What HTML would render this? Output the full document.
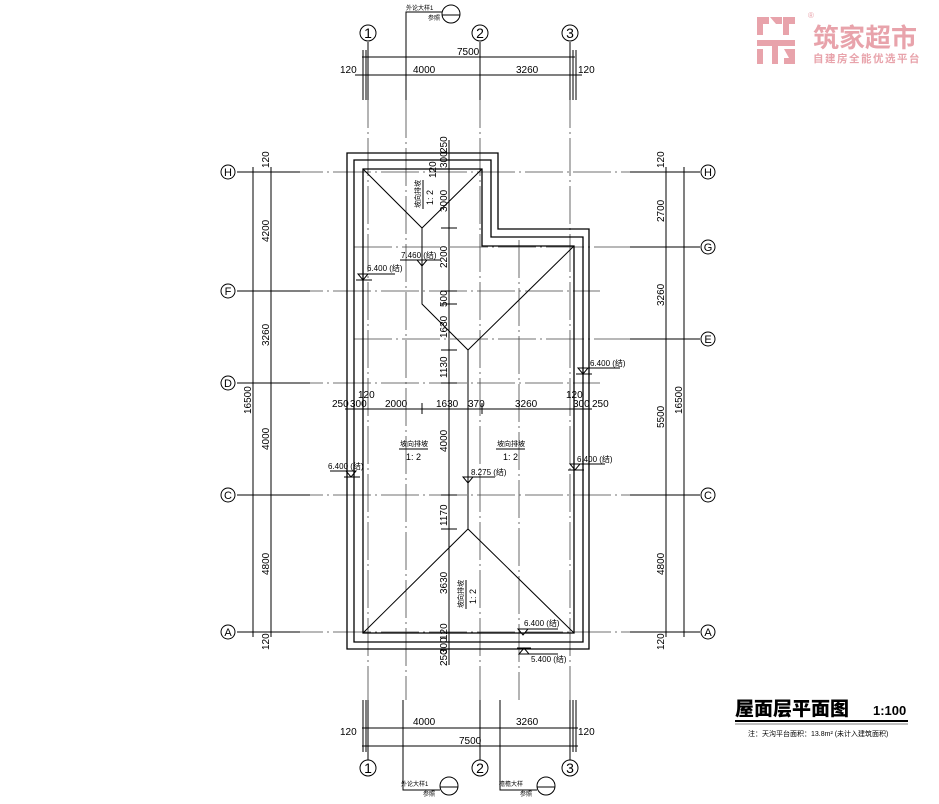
<!DOCTYPE html>
<html><head><meta charset="utf-8"><style>
html,body{margin:0;padding:0;background:#fff;}
svg{display:block;}
text{font-family:"Liberation Sans Narrow","Liberation Sans","Noto Sans CJK SC",sans-serif;fill:#000;}
.g{stroke:#444;stroke-width:.8;stroke-dasharray:38,4,2,4;fill:none;}
.l{stroke:#000;stroke-width:1;fill:none;}
.t{stroke:#000;stroke-width:1.3;fill:none;}
.s{font-size:10px;}
.c{font-size:7px;}
</style></head><body>
<svg width="939" height="804" viewBox="0 0 939 804" xmlns="http://www.w3.org/2000/svg">
<g class="g">
<line x1="237" y1="172" x2="700" y2="172"/>
<line x1="354" y1="247" x2="700" y2="247"/>
<line x1="237" y1="291" x2="600" y2="291"/>
<line x1="354" y1="339" x2="700" y2="339"/>
<line x1="237" y1="383" x2="600" y2="383"/>
<line x1="237" y1="495" x2="700" y2="495"/>
<line x1="237" y1="632" x2="700" y2="632"/>
<line x1="368" y1="42" x2="368" y2="760"/>
<line x1="480" y1="42" x2="480" y2="760"/>
<line x1="570" y1="42" x2="570" y2="760"/>
<line x1="406" y1="100" x2="406" y2="700"/>
<line x1="519" y1="240" x2="519" y2="700"/>
</g>
<g class="l">
<line x1="237" y1="172" x2="300" y2="172"/><line x1="237" y1="291" x2="310" y2="291"/><line x1="237" y1="383" x2="310" y2="383"/><line x1="237" y1="495" x2="310" y2="495"/><line x1="237" y1="632" x2="300" y2="632"/>
<line x1="630" y1="172" x2="700" y2="172"/><line x1="630" y1="247" x2="700" y2="247"/><line x1="630" y1="339" x2="700" y2="339"/><line x1="630" y1="495" x2="700" y2="495"/><line x1="630" y1="632" x2="700" y2="632"/>
<line x1="368" y1="42" x2="368" y2="100"/><line x1="480" y1="42" x2="480" y2="100"/><line x1="570" y1="42" x2="570" y2="100"/>
<line x1="368" y1="700" x2="368" y2="760"/><line x1="480" y1="700" x2="480" y2="760"/><line x1="570" y1="700" x2="570" y2="760"/>
</g>
<path class="t" d="M347 153 H498 V229 H589 V649 H347 Z"/>
<path class="t" d="M354 160 H491 V237 H583 V642 H354 Z"/>
<path class="t" d="M363 169 H482 V246 H574 V633 H363 Z"/>
<g class="l">
<polyline points="363,169 422,228 482,169"/>
<polyline points="422,228 422,304 468,350 468,529"/>
<line x1="574" y1="246" x2="468" y2="350"/>
<polyline points="363,633 468,529 574,633"/>
</g>
<line class="l" x1="449" y1="140" x2="449" y2="665"/>
<g class="l">
<line x1="441" y1="153" x2="457" y2="153"/><line x1="441" y1="160" x2="457" y2="160"/><line x1="441" y1="169" x2="457" y2="169"/><line x1="441" y1="228" x2="457" y2="228"/><line x1="441" y1="291" x2="457" y2="291"/><line x1="441" y1="304" x2="457" y2="304"/><line x1="441" y1="350" x2="457" y2="350"/><line x1="441" y1="383" x2="457" y2="383"/><line x1="441" y1="495" x2="457" y2="495"/><line x1="441" y1="529" x2="457" y2="529"/><line x1="441" y1="633" x2="457" y2="633"/><line x1="441" y1="642" x2="457" y2="642"/><line x1="441" y1="649" x2="457" y2="649"/>
</g>
<g class="s">
<text transform="translate(447,153) rotate(-90)">250</text>
<text transform="translate(447,168) rotate(-90)">300</text>
<text transform="translate(436,178) rotate(-90)">120</text>
<text transform="translate(447,212) rotate(-90)">3000</text>
<text transform="translate(447,268) rotate(-90)">2200</text>
<text transform="translate(447,307) rotate(-90)">500</text>
<text transform="translate(447,338) rotate(-90)">1630</text>
<text transform="translate(447,378) rotate(-90)">1130</text>
<text transform="translate(447,452) rotate(-90)">4000</text>
<text transform="translate(447,526) rotate(-90)">1170</text>
<text transform="translate(447,594) rotate(-90)">3630</text>
<text transform="translate(447,640) rotate(-90)">120</text>
<text transform="translate(447,654) rotate(-90)">300</text>
<text transform="translate(447,666) rotate(-90)">250</text>
</g>
<line class="l" x1="345" y1="409" x2="592" y2="409"/>
<g class="l"><line x1="347" y1="403" x2="347" y2="414"/><line x1="354" y1="403" x2="354" y2="414"/><line x1="363" y1="403" x2="363" y2="414"/><line x1="422" y1="403" x2="422" y2="414"/><line x1="468" y1="403" x2="468" y2="414"/><line x1="482" y1="403" x2="482" y2="414"/><line x1="574" y1="403" x2="574" y2="414"/><line x1="583" y1="403" x2="583" y2="414"/><line x1="589" y1="403" x2="589" y2="414"/></g>
<g class="s">
<text x="332" y="407">250</text><text x="350" y="407">300</text><text x="358" y="398">120</text>
<text x="385" y="407">2000</text><text x="436" y="407">1630</text><text x="468" y="407">370</text>
<text x="515" y="407">3260</text><text x="566" y="398">120</text><text x="573" y="407">300</text><text x="592" y="407">250</text>
</g>
<g class="c">
<text x="400" y="446">坡向排坡</text><line class="l" x1="399" y1="449" x2="428" y2="449"/><text x="406" y="460" style="font-size:9px">1: 2</text>
<text x="497" y="446">坡向排坡</text><line class="l" x1="496" y1="449" x2="525" y2="449"/><text x="503" y="460" style="font-size:9px">1: 2</text>
<text transform="translate(420,208) rotate(-90)">坡向排坡</text><line class="l" x1="423" y1="180" x2="423" y2="209"/><text transform="translate(433,205) rotate(-90)" style="font-size:9px">1: 2</text>
<text transform="translate(463,608) rotate(-90)">坡向排坡</text><line class="l" x1="466" y1="580" x2="466" y2="609"/><text transform="translate(476,604) rotate(-90)" style="font-size:9px">1: 2</text>
</g>
<g class="l">
<path d="M358 274 L368 274 L363 280 Z M356 280 H372"/><line x1="363" y1="274" x2="395" y2="274"/>
<path d="M417 260 L427 260 L422 266 Z"/><line x1="400" y1="260" x2="440" y2="260"/>
<path d="M578 368 L588 368 L583 374 Z M576 374 H592"/><line x1="583" y1="368" x2="620" y2="368"/>
<path d="M346 471 L356 471 L351 477 Z M344 477 H360"/><line x1="330" y1="471" x2="356" y2="471"/>
<path d="M463 477 L473 477 L468 483 Z"/><line x1="468" y1="477" x2="495" y2="477"/>
<path d="M570 464 L580 464 L575 470 Z M568 470 H584"/><line x1="575" y1="464" x2="605" y2="464"/>
<path d="M518 629 L528 629 L523 635 Z"/><line x1="523" y1="629" x2="558" y2="629"/>
<path d="M519 654 L529 654 L524 648 Z M517 648 H531"/><line x1="524" y1="654" x2="558" y2="654"/>
</g>
<g class="c" style="font-size:8px">
<text x="367" y="271">6.400 (结)</text><text x="401" y="258">7.460 (结)</text>
<text x="590" y="366">6.400 (结)</text><text x="328" y="469">6.400 (结)</text>
<text x="471" y="475">8.275 (结)</text><text x="577" y="462">6.400 (结)</text>
<text x="524" y="626">6.400 (结)</text><text x="531" y="662">5.400 (结)</text>
</g>
<g class="l">
<line x1="362" y1="57" x2="575" y2="57"/><line x1="355" y1="75" x2="582" y2="75"/>
<line x1="363" y1="50" x2="363" y2="100"/><line x1="366" y1="50" x2="366" y2="100"/><line x1="573" y1="50" x2="573" y2="100"/><line x1="576" y1="50" x2="576" y2="100"/>
<line x1="362" y1="728" x2="578" y2="728"/><line x1="362" y1="746" x2="578" y2="746"/>
<line x1="363" y1="700" x2="363" y2="752"/><line x1="366" y1="700" x2="366" y2="752"/><line x1="573" y1="700" x2="573" y2="752"/><line x1="576" y1="700" x2="576" y2="752"/>
<line x1="253" y1="167" x2="253" y2="637"/><line x1="271" y1="167" x2="271" y2="637"/>
<line x1="666" y1="167" x2="666" y2="637"/><line x1="684" y1="167" x2="684" y2="637"/>
<polyline points="406,100 406,12 442,12"/><polyline points="403,700 403,790 440,790"/><polyline points="500,700 500,790 537,790"/>
</g>
<g class="s">
<text x="457" y="55">7500</text><text x="340" y="73">120</text><text x="413" y="73">4000</text><text x="516" y="73">3260</text><text x="578" y="73">120</text>
<text x="413" y="725">4000</text><text x="516" y="725">3260</text><text x="340" y="735">120</text><text x="578" y="735">120</text><text x="459" y="744">7500</text>
<text transform="translate(269,168) rotate(-90)">120</text><text transform="translate(269,242) rotate(-90)">4200</text><text transform="translate(269,346) rotate(-90)">3260</text><text transform="translate(269,450) rotate(-90)">4000</text><text transform="translate(269,575) rotate(-90)">4800</text><text transform="translate(269,650) rotate(-90)">120</text>
<text transform="translate(251,414) rotate(-90)">16500</text>
<text transform="translate(664,168) rotate(-90)">120</text><text transform="translate(664,222) rotate(-90)">2700</text><text transform="translate(664,306) rotate(-90)">3260</text><text transform="translate(664,428) rotate(-90)">5500</text><text transform="translate(664,575) rotate(-90)">4800</text><text transform="translate(664,650) rotate(-90)">120</text>
<text transform="translate(682,414) rotate(-90)">16500</text>
</g>
<g class="l">
<circle cx="368" cy="33" r="8"/><circle cx="480" cy="33" r="8"/><circle cx="570" cy="33" r="8"/>
<circle cx="368" cy="768" r="8"/><circle cx="480" cy="768" r="8"/><circle cx="570" cy="768" r="8"/>
<circle cx="228" cy="172" r="7"/><circle cx="228" cy="291" r="7"/><circle cx="228" cy="383" r="7"/><circle cx="228" cy="495" r="7"/><circle cx="228" cy="632" r="7"/>
<circle cx="708" cy="172" r="7"/><circle cx="708" cy="247" r="7"/><circle cx="708" cy="339" r="7"/><circle cx="708" cy="495" r="7"/><circle cx="708" cy="632" r="7"/>
<circle cx="451" cy="14" r="9"/><line x1="442" y1="15" x2="460" y2="15"/>
<circle cx="449" cy="786" r="9"/><line x1="440" y1="787" x2="458" y2="787"/>
<circle cx="546" cy="786" r="9"/><line x1="537" y1="787" x2="555" y2="787"/>
</g>
<g style="font-size:14px" text-anchor="middle">
<text x="368" y="38">1</text><text x="480" y="38">2</text><text x="570" y="38">3</text>
<text x="368" y="773">1</text><text x="480" y="773">2</text><text x="570" y="773">3</text>
</g>
<g style="font-size:11px;font-family:'Liberation Serif',serif" text-anchor="middle">
<text x="228" y="176">H</text><text x="228" y="295">F</text><text x="228" y="387">D</text><text x="228" y="499">C</text><text x="228" y="636">A</text>
<text x="708" y="176">H</text><text x="708" y="251">G</text><text x="708" y="343">E</text><text x="708" y="499">C</text><text x="708" y="636">A</text>
</g>
<g class="c" style="font-size:6px">
<text x="406" y="10">外论大样1</text><text x="428" y="20">参照</text>
<text x="401" y="786">外论大样1</text><text x="423" y="796">参照</text>
<text x="499" y="786">檐檐大样</text><text x="520" y="796">参照</text>
</g>
<text x="735" y="715" style="font-size:19px;font-weight:900;font-family:'Noto Sans CJK SC','WenQuanYi Zen Hei',sans-serif">屋面层平面图</text>
<text x="873" y="715" style="font-size:13px;font-weight:bold">1:100</text>
<line x1="735" y1="721" x2="908" y2="721" stroke="#000" stroke-width="2"/>
<line x1="735" y1="724" x2="908" y2="724" stroke="#000" stroke-width=".6"/>
<text x="748" y="736" style="font-size:7px">注：天沟平台面积：13.8m² (未计入建筑面积)</text>
<g fill="#e8a3ab">
<polygon points="757,17 769,17 769,24 763,24 763,35 757,35"/>
<polygon points="770,17 782,17 782,24 776,24"/>
<polygon points="783,17 795,17 795,24 789,24 789,35 783,35"/>
<rect x="757" y="40" width="38" height="6"/>
<rect x="757" y="49" width="6" height="15"/>
<rect x="772" y="46" width="6" height="18"/>
<polygon points="784,49 795,49 795,64 784,64 784,58 789,58"/>
</g>
<text x="813" y="47" style="font-size:26px;font-weight:bold;fill:#e8a3ab;font-family:'Noto Sans CJK SC',sans-serif">筑家超市</text>
<text x="813" y="62" style="font-size:10.5px;font-weight:bold;fill:#e8a3ab;letter-spacing:1.5px;font-family:'Noto Sans CJK SC',sans-serif">自建房全能优选平台</text>
<text x="808" y="18" style="font-size:8px;fill:#e8a3ab">®</text>
</svg>
</body></html>
